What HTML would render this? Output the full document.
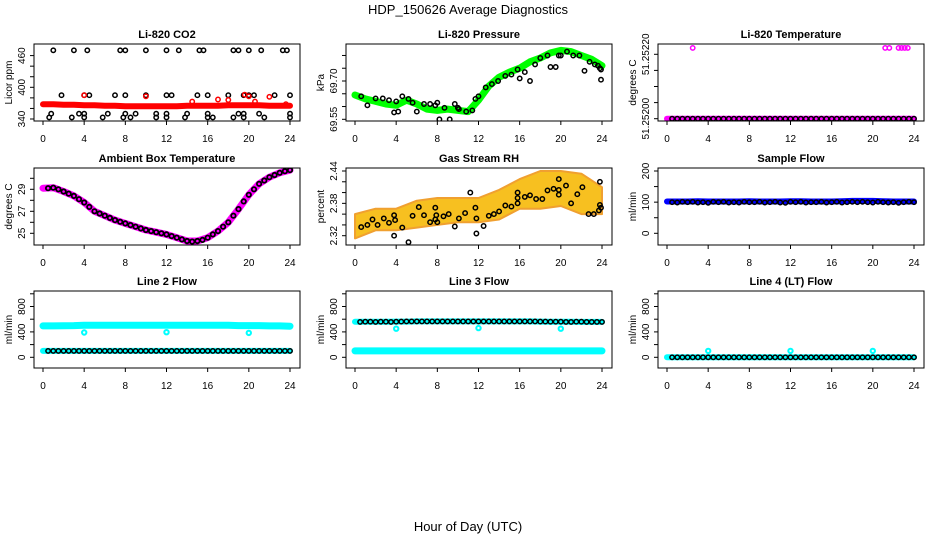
<!DOCTYPE html>
<html><head><meta charset="utf-8">
<style>
html,body{margin:0;padding:0;background:#fff;}
svg{display:block;font-family:"Liberation Sans",Arial,sans-serif;}
</style></head>
<body>
<svg id="chart" width="936" height="540" viewBox="0 0 936 540">
<text x="468" y="14" text-anchor="middle" font-size="13">HDP_150626  Average Diagnostics</text>
<text x="468" y="531" text-anchor="middle" font-size="13">Hour of Day (UTC)</text>
</svg>
<script>
// ---- data ----
const xTicks = [0,4,8,12,16,20,24];
const co2Red = [368,368,367,367,366,366,365,365,364,364,364,364,364,364,365,365,365,365,366,366,366,366,365,365,365];
const co2RedOutH = [4,10,14.5,17,18,19.6,20,20.6,22,23.6];
const co2RedOutV = [385,383,373,377,376,386,383,373,382,368];
const co2BlackH = [1,3,4.3,7.5,8,10,12,13.2,15.2,15.6,18.5,19,20,21.2,23.3,23.7,
 1.8,4,4.5,7,8,10,12,12.5,15,16,18,19.5,20,20.5,22.5,24,
 0.8,3.5,4,6.3,8,9,11,12,14,16,19,19.5,21,24,
 0.6,2.8,4,5.8,7.8,8.5,11,12,13.8,16,16.5,18.5,19.5,21.5,24];
const co2BlackV = [470,470,470,470,470,470,470,470,470,470,470,470,470,470,470,470,
 385,385,385,385,385,385,385,385,385,385,385,385,385,385,385,385,
 350,350,350,350,350,350,350,350,350,350,350,350,350,350,
 343,343,343,343,343,343,343,343,343,343,343,343,343,343,343];
const pressGreen = [69.645,69.63,69.62,69.61,69.605,69.625,69.61,69.59,69.585,69.59,69.585,69.58,69.625,69.68,69.715,69.735,69.75,69.775,69.79,69.81,69.82,69.815,69.80,69.785,69.76];
const pressBlackH = [0.6,1.2,2,2.7,3.3,3.8,4,4.2,4.6,5.2,5.6,6,6.7,7.3,7.8,8,8.2,8.7,9.2,9.7,10,10.1,10.8,11.4,11.7,12,12.7,13.3,13.9,14.6,15.2,15.8,16,16.5,17,17.5,18,18.7,19,19.5,19.8,20,20.6,21.2,21.8,22.3,22.8,23.3,23.6,23.8,23.9,23.9];
const pressBlackV = [69.64,69.605,69.632,69.632,69.625,69.577,69.62,69.58,69.64,69.63,69.615,69.58,69.61,69.61,69.605,69.615,69.55,69.595,69.55,69.61,69.595,69.59,69.58,69.585,69.63,69.64,69.675,69.688,69.70,69.72,69.725,69.745,69.71,69.735,69.70,69.765,69.79,69.80,69.755,69.755,69.80,69.80,69.815,69.80,69.80,69.74,69.775,69.765,69.76,69.75,69.705,69.745];
const tempMag = [51.252,51.252,51.252,51.252,51.252,51.252,51.252,51.252,51.252,51.252,51.252,51.252,51.252,51.252,51.252,51.252,51.252,51.252,51.252,51.252,51.252,51.252,51.252,51.252,51.252];
const tempMagOutH = [2.5,21.2,21.6,22.5,22.8,23.1,23.4];
const tempMagOutV = [51.25222,51.25222,51.25222,51.25222,51.25222,51.25222,51.25222];
const tempBlack = [51.252,51.252,51.252,51.252,51.252,51.252,51.252,51.252,51.252,51.252,51.252,51.252,51.252,51.252,51.252,51.252,51.252,51.252,51.252,51.252,51.252,51.252,51.252,51.252,51.252,51.252,51.252,51.252,51.252,51.252,51.252,51.252,51.252,51.252,51.252,51.252,51.252,51.252,51.252,51.252,51.252,51.252,51.252,51.252,51.252,51.252,51.252,51.252];
const ambMag = [29.1,29.15,28.8,28.4,27.8,27.0,26.6,26.2,25.9,25.6,25.3,25.1,24.9,24.6,24.3,24.3,24.6,25.2,26.0,27.2,28.5,29.5,30.1,30.5,30.75];
const ambBlack = [29.1,29.15,29.0,28.8,28.6,28.4,28.1,27.8,27.4,27.0,26.8,26.6,26.4,26.2,26.05,25.9,25.75,25.6,25.45,25.3,25.2,25.1,25.0,24.9,24.75,24.6,24.45,24.3,24.25,24.3,24.4,24.6,24.9,25.2,25.6,26.0,26.6,27.2,27.9,28.5,29.0,29.5,29.8,30.1,30.3,30.5,30.65,30.75];
const rhEnvH = [0,2,4,6,8,10,12,14,16,18,20,22,24];
const rhLower = [2.315,2.33,2.33,2.335,2.34,2.345,2.345,2.35,2.37,2.37,2.375,2.36,2.36];
const rhUpper = [2.36,2.37,2.37,2.385,2.39,2.39,2.39,2.405,2.425,2.44,2.44,2.435,2.41];
const rhBlackH = [0.6,1.2,1.7,2.2,2.8,3.3,3.8,3.9,3.8,4.6,5.2,5.6,6.2,6.7,7.3,7.8,7.8,7.9,8,8.6,9.1,9.7,10.1,10.7,11.2,11.7,11.8,11.8,12.5,13,13.5,14,14.6,15.2,15.8,15.8,15.8,16.5,17,17.6,18.2,18.7,19.3,19.8,19.8,19.8,20.5,21,21.6,22.1,22.7,23.2,23.7,23.8,23.9,23.8];
const rhBlackV = [2.336,2.34,2.35,2.34,2.352,2.344,2.358,2.349,2.32,2.335,2.308,2.357,2.373,2.358,2.345,2.372,2.35,2.358,2.345,2.356,2.36,2.337,2.352,2.362,2.40,2.372,2.352,2.324,2.338,2.357,2.36,2.365,2.376,2.374,2.38,2.39,2.40,2.392,2.395,2.388,2.388,2.404,2.407,2.405,2.396,2.425,2.413,2.38,2.397,2.41,2.36,2.36,2.367,2.377,2.372,2.42];
const sampleBlue = [102,102,102,103,102,102,102,102,103,102,102,102,103,103,102,102,102,103,104,104,104,103,102,102,102];
const sampleBlack = [100,99,101,100,101,99,100,98,101,100,101,99,100,99,101,100,100,101,99,100,101,99,98,101,100,101,99,100,100,101,99,100,101,99,100,101,100,101,100,99,101,100,99,100,98,100,101,100];
const l2Cyan = [495,495,497,500,505,505,505,505,505,505,505,505,505,505,505,505,505,505,505,500,500,500,495,495,490];
const l2CyanLow = [100,100,100,100,100,100,100,100,100,100,100,100,100,100,100,100,100,100,100,100,100,100,100,100,100];
const l2Black = [100,100,100,100,100,100,100,100,100,100,100,100,100,100,100,100,100,100,100,100,100,100,100,100,100,100,100,100,100,100,100,100,100,100,100,100,100,100,100,100,100,100,100,100,100,100,100,100];
const l2OutH = [4,12,20];
const l2OutV = [390,395,385];
const l3Cyan = [560,560,560,560,562,562,565,565,565,565,565,565,565,565,565,565,565,565,562,560,560,560,558,558,558];
const l3CyanLow = [100,100,100,100,100,100,100,100,100,100,100,100,100,100,100,100,100,100,100,100,100,100,100,100,100];
const l3Black = [558,560,560,558,560,560,558,560,562,565,565,565,565,565,565,565,565,565,565,565,565,565,565,565,565,565,565,565,565,565,565,565,565,565,565,562,562,560,560,560,558,558,560,560,558,558,558,558];
const l3OutH = [4,12,20];
const l3OutV = [450,460,450];
const l4Cyan = [0,0,0,0,0,0,0,0,0,0,0,0,0,0,0,0,0,0,0,0,0,0,0,0,0];
const l4Black = [0,0,0,0,0,0,0,0,0,0,0,0,0,0,0,0,0,0,0,0,0,0,0,0,0,0,0,0,0,0,0,0,0,0,0,0,0,0,0,0,0,0,0,0,0,0,0,0];
const l4OutH = [4,12,20];
const l4OutV = [100,100,100];

// ---- rendering ----
const NS = "http://www.w3.org/2000/svg";
const svg = document.getElementById("chart");
const colX0 = [43,355,667];
const rowTop = [44,168,291];
function mk(tag, attrs, parent){ const e=document.createElementNS(NS,tag); for(const k in attrs) e.setAttribute(k,attrs[k]); (parent||svg).appendChild(e); return e; }
function hourIdx(arr){ return arr.map((_,i)=>i); }
function halfHours(arr){ return arr.map((_,i)=>0.5*(i+1)); }

function panel(opt){
  const x0 = colX0[opt.col], top = rowTop[opt.row], bot = top+77;
  const left = x0-9, right = x0+257;
  const xs = h => x0 + h*247/24;
  const ys = v => opt.p1 + (v-opt.v1)*(opt.p2-opt.p1)/(opt.v2-opt.v1);
  const g = mk("g",{});
  
  
  const t = mk("text",{x:(left+right)/2,y:top-6,"text-anchor":"middle","font-size":"11","font-weight":"bold"},g);
  t.textContent = opt.title;
  
  
  const clip = "clip-"+opt.name;
  const cp = mk("clipPath",{id:clip},g);
  mk("rect",{x:left,y:top,width:right-left,height:bot-top},cp);
  const plot = mk("g",{"clip-path":"url(#"+clip+")"},g);
  (opt.bands||[]).forEach(b=>{
    const hs = b.h || hourIdx(b.v);
    const pts = b.v.map((v,i)=>xs(hs[i]).toFixed(1)+","+ys(v).toFixed(1)).join(" ");
    const pl = mk("polyline",{points:pts,fill:"none",stroke:b.color,"stroke-width":b.w||7,"stroke-linecap":"round","stroke-linejoin":"round"},plot);
    
    
  });
  if(opt.area){
    const a=opt.area;
    const up = a.h.map((h,i)=>xs(h).toFixed(1)+","+ys(a.hi[i]).toFixed(1));
    const lo = a.h.map((h,i)=>xs(h).toFixed(1)+","+ys(a.lo[i]).toFixed(1)).reverse();
    const pg = mk("polygon",{points:up.concat(lo).join(" "),fill:"#F7C020",stroke:"#F0A030","stroke-width":"2","stroke-linejoin":"round"},plot);
    
    
  }
  (opt.points||[]).forEach(p=>{
    p.v.forEach((v,i)=>{
      const c = mk("circle",{cx:xs(p.h[i]).toFixed(1),cy:ys(v).toFixed(1),r:2.2,fill:"none",stroke:p.color,"stroke-width":p.sw||1.5},plot);
      
      
    });
  });
  const box = mk("rect",{x:left,y:top,width:right-left,height:bot-top,fill:"none",stroke:"#000","stroke-width":"1"},g);
  
  
  xTicks.forEach(h=>{
    mk("line",{x1:xs(h),x2:xs(h),y1:bot,y2:bot+4,stroke:"#000"},g);
    const tl = mk("text",{x:xs(h),y:bot+21,"text-anchor":"middle","font-size":"10"},g);
    tl.textContent = h;
    
    
  });
  opt.yTicks.forEach(v=>{
    mk("line",{x1:left-4,x2:left,y1:ys(v),y2:ys(v),stroke:"#000"},g);
  });
  opt.yLabels.forEach(v=>{
    const y = ys(v);
    const tl = mk("text",{x:left-9,y:y,"text-anchor":"middle","font-size":"10",transform:"rotate(-90 "+(left-9)+" "+y+")"},g);
    tl.textContent = opt.fmt ? opt.fmt(v) : v;
    
    
  });
  const yt = (top+bot)/2;
  const ytl = mk("text",{x:left-22,y:yt,"text-anchor":"middle","font-size":"10",transform:"rotate(-90 "+(left-22)+" "+yt+")"},g);
  ytl.textContent = opt.ylab;
  
  
}

panel({name:"co2-panel",title:"Li-820 CO2",col:0,row:0,v1:340,p1:119,v2:400,p2:87.3,
  yTicks:[340,360,380,400,420,440,460],yLabels:[340,400,460],ylab:"Licor ppm",
  bands:[{v:co2Red,color:"#FF0000",w:6}],
  points:[{h:co2BlackH,v:co2BlackV,color:"#000"},{h:co2RedOutH,v:co2RedOutV,color:"#FF0000"}]});
panel({name:"pressure-panel",title:"Li-820 Pressure",col:1,row:0,v1:69.55,p1:119.3,v2:69.70,p2:81,
  yTicks:[69.55,69.60,69.65,69.70,69.75,69.80],yLabels:[69.55,69.70],ylab:"kPa",fmt:v=>v.toFixed(2),
  bands:[{v:pressGreen,color:"#00FF00",w:7}],
  points:[{h:pressBlackH,v:pressBlackV,color:"#000"}]});
panel({name:"licor-temp-panel",title:"Li-820 Temperature",col:2,row:0,v1:51.252,p1:118.7,v2:51.2522,p2:54.3,
  yTicks:[51.252,51.25205,51.2521,51.25215,51.2522],yLabels:[51.252,51.2522],ylab:"degrees C",fmt:v=>v.toFixed(5),
  bands:[{v:tempMag,color:"#FF00FF",w:6}],
  points:[{h:halfHours(tempBlack),v:tempBlack,color:"#000"},{h:tempMagOutH,v:tempMagOutV,color:"#FF00FF"}]});
panel({name:"ambient-temp-panel",title:"Ambient Box Temperature",col:0,row:1,v1:25,p1:233.3,v2:29,p2:189.3,
  yTicks:[25,26,27,28,29,30],yLabels:[25,27,29],ylab:"degrees C",
  bands:[{v:ambMag,color:"#FF00FF",w:7}],
  points:[{h:halfHours(ambBlack),v:ambBlack,color:"#000",sw:1.8}]});
panel({name:"rh-panel",title:"Gas Stream RH",col:1,row:1,v1:2.32,p1:235.7,v2:2.44,p2:171,
  yTicks:[2.32,2.34,2.36,2.38,2.40,2.42,2.44],yLabels:[2.32,2.38,2.44],ylab:"percent",fmt:v=>v.toFixed(2),
  area:{h:rhEnvH,lo:rhLower,hi:rhUpper},
  points:[{h:rhBlackH,v:rhBlackV,color:"#000"}]});
panel({name:"sample-flow-panel",title:"Sample Flow",col:2,row:1,v1:0,p1:233.3,v2:200,p2:171,
  yTicks:[0,50,100,150,200],yLabels:[0,100,200],ylab:"ml/min",
  bands:[{v:sampleBlue,color:"#0000FF",w:6}],
  points:[{h:halfHours(sampleBlack),v:sampleBlack,color:"#000"}]});
panel({name:"line2-flow-panel",title:"Line 2 Flow",col:0,row:2,v1:0,p1:357.3,v2:800,p2:306.5,
  yTicks:[0,200,400,600,800,1000],yLabels:[0,400,800],ylab:"ml/min",
  bands:[{v:l2Cyan,color:"#00FFFF",w:7},{v:l2CyanLow,color:"#00FFFF",w:6}],
  points:[{h:halfHours(l2Black),v:l2Black,color:"#000"},{h:l2OutH,v:l2OutV,color:"#00FFFF",sw:2}]});
panel({name:"line3-flow-panel",title:"Line 3 Flow",col:1,row:2,v1:0,p1:357.3,v2:800,p2:306.5,
  yTicks:[0,200,400,600,800,1000],yLabels:[0,400,800],ylab:"ml/min",
  bands:[{v:l3Cyan,color:"#00FFFF",w:6},{v:l3CyanLow,color:"#00FFFF",w:7}],
  points:[{h:halfHours(l3Black),v:l3Black,color:"#000"},{h:l3OutH,v:l3OutV,color:"#00FFFF",sw:2}]});
panel({name:"line4-flow-panel",title:"Line 4 (LT) Flow",col:2,row:2,v1:0,p1:357.3,v2:800,p2:306.5,
  yTicks:[0,200,400,600,800,1000],yLabels:[0,400,800],ylab:"ml/min",
  bands:[{v:l4Cyan,color:"#00FFFF",w:6}],
  points:[{h:halfHours(l4Black),v:l4Black,color:"#000"},{h:l4OutH,v:l4OutV,color:"#00FFFF",sw:2}]});
</script>
</body></html>
